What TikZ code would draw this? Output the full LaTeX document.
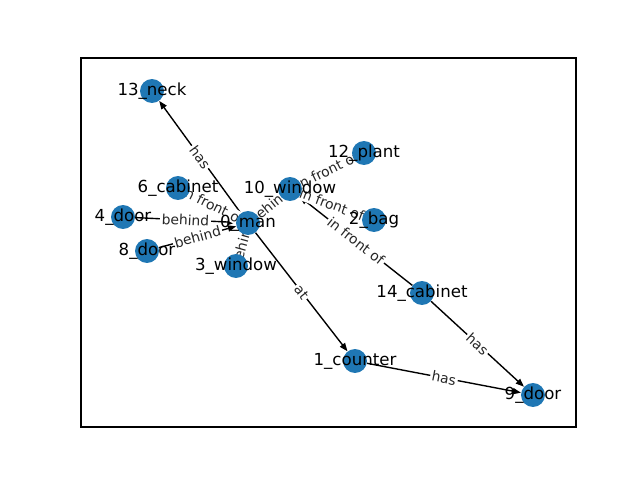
\documentclass[tikz,border=0pt]{standalone}
\usepackage{fontspec}
\setmainfont{DejaVu Sans}
\usetikzlibrary{arrows.meta}
\definecolor{nodeblue}{HTML}{1F77B4}
\pgfdeclarelayer{edgelayer}
\pgfdeclarelayer{labellayer}
\pgfsetlayers{edgelayer,labellayer,main}
\begin{document}
\begin{tikzpicture}[x=0.0254cm,y=-0.0254cm,
  dot/.style={circle,fill=nodeblue,draw=none,minimum size=17.3pt,inner sep=0pt},
  nlbl/.style={font=\fontsize{12}{14}\selectfont,inner sep=0pt,text=black},
  elbl/.style={font=\fontsize{10}{12}\selectfont,fill=white,inner sep=1.2pt,rounded corners=2pt,sloped,midway,text=black!85},
  con/.style={draw=black,line width=1pt},
  arr/.style={con,-{Triangle[length=6pt,width=4.5pt]}},
  frame/.style={draw=black,line width=0.8pt}]
\useasboundingbox (0,0) rectangle (640,480);
\draw[frame] (81,58) rectangle (576,427);
% nodes
\node[dot] (n0) at (248,223) {};
\node[dot] (n1) at (355,361) {};
\node[dot] (n2) at (374,220) {};
\node[dot] (n3) at (236,266) {};
\node[dot] (n4) at (123,217) {};
\node[dot] (n6) at (178,188) {};
\node[dot] (n8) at (147,251) {};
\node[dot] (n9) at (533,395) {};
\node[dot] (n10) at (290,189) {};
\node[dot] (n12) at (364,153) {};
\node[dot] (n13) at (152,91) {};
\node[dot] (n14) at (422,293) {};
\node[nlbl] (t0) at (n0) {0\_man};
\node[nlbl] (t1) at (n1) {1\_counter};
\node[nlbl] (t2) at (n2) {2\_bag};
\node[nlbl] (t3) at (n3) {3\_window};
\node[nlbl] (t4) at (n4) {4\_door};
\node[nlbl] (t6) at (n6) {6\_cabinet};
\node[nlbl] (t8) at (n8) {8\_door};
\node[nlbl] (t9) at (n9) {9\_door};
\node[nlbl] (t10) at (n10) {10\_window};
\node[nlbl] (t12) at (n12) {12\_plant};
\node[nlbl] (t13) at (n13) {13\_neck};
\node[nlbl] (t14) at (n14) {14\_cabinet};
\begin{pgfonlayer}{edgelayer}
\draw[arr] (n0) -- (n13);
\draw[arr] (n0) -- (n1);
\draw[arr] (n1) -- (n9);
\draw[arr] (n14) -- (n9);
\draw[arr] (n4) -- (n0);
\draw[arr] (n8) -- (n0);
\draw[arr] (n0) -- (n6);
\draw[arr] (n3) -- (n0);
\draw[arr] (n0) -- (n10);
\draw[arr] (n10) -- (n12);
\draw[arr] (n10) -- (n2);
\draw[arr] (n14) -- (n10);
\end{pgfonlayer}
\begin{pgfonlayer}{labellayer}
\path (n0) -- (n13) node[elbl] (e1) {has};
\path (n0) -- (n1) node[elbl] (e2) {at};
\path (n1) -- (n9) node[elbl] (e3) {has};
\path (n14) -- (n9) node[elbl] (e4) {has};
\path (n4) -- (n0) node[elbl] (e5) {behind};
\path (n8) -- (n0) node[elbl] (e6) {behind};
\path (n0) -- (n6) node[elbl] (e7) {in front of};
\path (n3) -- (n0) node[elbl] (e8) {behind};
\path (n0) -- (n10) node[elbl] (e9) {behind};
\path (n10) -- (n12) node[elbl] (e10) {in front of};
\path (n10) -- (n2) node[elbl] (e11) {in front of};
\path (n14) -- (n10) node[elbl] (e12) {in front of};
\end{pgfonlayer}
\end{tikzpicture}
\end{document}
